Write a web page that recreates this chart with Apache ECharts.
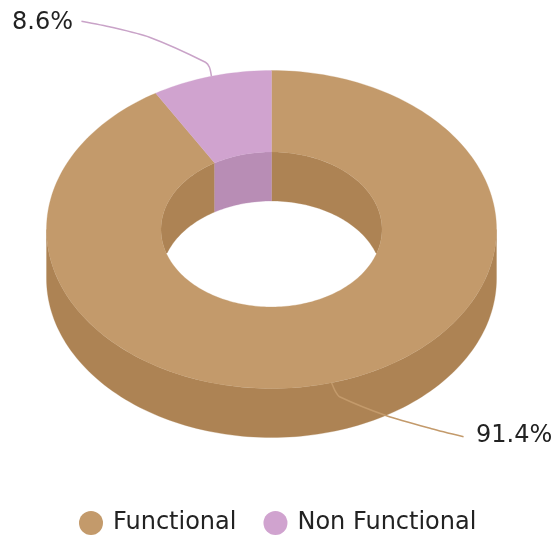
<!DOCTYPE html>
<html><head><meta charset="utf-8">
<style>html,body{margin:0;padding:0;background:#fff}#c{width:553px;height:536px}</style>
<script src="https://cdn.jsdelivr.net/npm/echarts@6/dist/echarts.min.js"></script>
</head><body><div id="c"></div>
<script>
var categories = ['Functional', 'Non Functional'];
var values = [91.4, 8.6];
var topColors = ['#C39A6B', '#D0A3CF'];
var wallColors = ['#AD8354', '#B88DB5'];

var FONT = '"DejaVu Sans", sans-serif';
var G = {cx: 271.5, cy: 229.5, rx: 225, ry: 159, irx: 110.5, iry: 77.5, d: 49};
// leader path offsets from the slice's mid-angle anchor, and label placement
var leaders = [
  {path: [[0,0],[4,9],[8,14],[55,33],[100,46],[132,54]], label: [476, 436]},
  {path: [[0,0],[-2,-9],[-6,-14],[-62,-39],[-100,-49],[-130,-55]], label: [12, 23]}
];
var total = values.reduce(function (a, b) { return a + b; }, 0);

function rad(deg) { return deg * Math.PI / 180; }
function pt(a, rx, ry, dy) {
  return [G.cx + rx * Math.sin(rad(a)), G.cy - ry * Math.cos(rad(a)) + (dy || 0)];
}
function samples(a0, a1) {
  var n = Math.max(2, Math.ceil((a1 - a0) / 1.5)), out = [];
  for (var i = 0; i <= n; i++) out.push(a0 + (a1 - a0) * i / n);
  return out;
}
function poly(points, color, z2) {
  return {type: 'polygon', shape: {points: points}, z2: z2,
    style: {fill: color, stroke: color, lineWidth: 0.3}};
}
function renderSlice(idx) {
  return function (params, api) {
    var val = api.value(0), before = 0;
    for (var i = 0; i < idx; i++) before += values[i];
    var a0 = before / total * 360, a1 = (before + val) / total * 360, mid = (a0 + a1) / 2;
    var kids = [];
    // outer front wall
    var s0 = Math.max(a0, 90), s1 = Math.min(a1, 270);
    if (s1 > s0) {
      var as = samples(s0, s1);
      var pts = as.map(function (a) { return pt(a, G.rx, G.ry); })
        .concat(as.slice().reverse().map(function (a) { return pt(a, G.rx, G.ry, G.d); }));
      kids.push(poly(pts, wallColors[idx], 1));
    }
    // inner back wall, cut off by the hole's near edge
    [[0, 90], [270, 360]].forEach(function (r) {
      var b0 = Math.max(a0, r[0]), b1 = Math.min(a1, r[1]);
      if (b1 <= b0) return;
      var as = samples(b0, b1);
      var pts = as.map(function (a) { return pt(a, G.irx, G.iry); })
        .concat(as.slice().reverse().map(function (a) {
          var c = Math.cos(rad(a));
          var y = Math.min(G.cy - G.iry * c + G.d, G.cy + G.iry * c);
          return [G.cx + G.irx * Math.sin(rad(a)), y];
        }));
      kids.push(poly(pts, wallColors[idx], 1));
    });
    // top face
    var ts = samples(a0, a1);
    var top = ts.map(function (a) { return pt(a, G.rx, G.ry); })
      .concat(ts.slice().reverse().map(function (a) { return pt(a, G.irx, G.iry); }));
    kids.push(poly(top, topColors[idx], 2));
    // leader and label
    var anchor = pt(mid, G.rx, G.ry), L = leaders[idx];
    kids.push({type: 'polyline', z2: 3,
      shape: {points: L.path.map(function (o) { return [anchor[0] + o[0], anchor[1] + o[1]]; }), smooth: 0.25},
      style: {fill: null, stroke: idx === 0 ? '#C39A6B' : '#C9A3C8', lineWidth: 1.5}});
    kids.push({type: 'text', z2: 4, x: L.label[0], y: L.label[1],
      style: {text: val.toFixed(1) + '%', fill: '#222', font: '24px ' + FONT,
        textAlign: 'left', textVerticalAlign: 'middle'}});
    return {type: 'group', children: kids};
  };
}

var chart = echarts.init(document.getElementById('c'), null, {renderer: 'canvas'});
chart.setOption({
  animation: false,
  backgroundColor: '#fff',
  legend: {
    data: categories, left: 74, top: 506, icon: 'circle',
    itemWidth: 24, itemHeight: 24, itemGap: 27,
    textStyle: {fontFamily: 'DejaVu Sans', fontSize: 24, color: '#222', padding: [0, 0, 0, 5]}
  },
  series: categories.map(function (name, i) {
    return {
      type: 'custom', name: name, coordinateSystem: 'none', silent: true, clip: false,
      itemStyle: {color: topColors[i]},
      data: [[values[i]]],
      renderItem: renderSlice(i)
    };
  })
});
</script></body></html>
